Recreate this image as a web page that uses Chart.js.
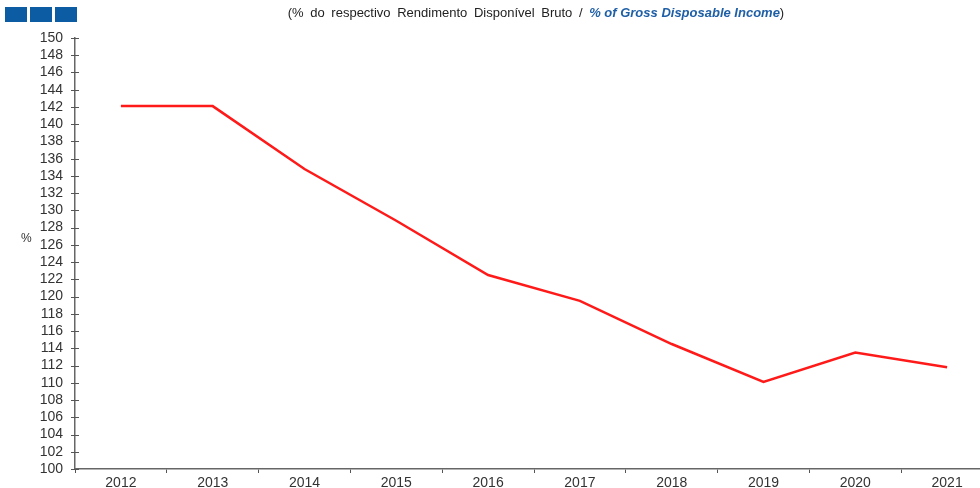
<!DOCTYPE html>
<html>
<head>
<meta charset="utf-8">
<script src="https://cdn.jsdelivr.net/npm/chart.js@4/dist/chart.umd.min.js"></script>
<style>
  html, body { margin: 0; padding: 0; background: #fff; overflow: hidden; width: 980px; height: 488px; }
  #wrap { position: absolute; left: 0; top: 0; width: 995px; height: 488px; }
  .sq { position: absolute; top: 7px; width: 22px; height: 15px; background: #0b5ca3; }
  #title { position: absolute; top: 5px; left: 0; width: 1072px; text-align: center;
           font-family: "Liberation Sans", Arial, sans-serif; font-size: 13px; color: #222; word-spacing: 3px; white-space: nowrap; }
  #title i { color: #1f5fa6; font-weight: bold; word-spacing: 0; }
  #ylab { position: absolute; left: 21px; top: 231px; font-family: "Liberation Sans", Arial, sans-serif; font-size: 12px; color: #333; }
</style>
</head>
<body>
<div id="wrap"><canvas id="c" width="995" height="488"></canvas></div>
<div class="sq" style="left:5px"></div>
<div class="sq" style="left:30px"></div>
<div class="sq" style="left:55px"></div>
<div id="title">(% do respectivo Rendimento Disponível Bruto / <i>% of Gross Disposable Income</i>)</div>
<div id="ylab">%</div>
<script>
// Household debt, % of gross disposable income
const years = ['2012','2013','2014','2015','2016','2017','2018','2019','2020','2021'];
const debtRatio = [142.1, 142.1, 134.8, 128.8, 122.5, 119.5, 114.5, 110.1, 113.5, 111.8];
const yMin = 100, yMax = 150, yStep = 2;

// Small tick marks that cross the vertical axis line
const crossTicks = {
  id: 'crossTicks',
  afterDraw(chart) {
    const y = chart.scales.y, ctx = chart.ctx;
    const x0 = chart.chartArea.left;
    ctx.save();
    ctx.strokeStyle = '#555';
    ctx.lineWidth = 1;
    y.ticks.forEach(t => {
      const py = Math.round(y.getPixelForValue(t.value)) + 0.5;
      ctx.beginPath();
      ctx.moveTo(x0 - 4, py);
      ctx.lineTo(x0 + 4, py);
      ctx.stroke();
    });
    ctx.restore();
  }
};

new Chart(document.getElementById('c'), {
  type: 'line',
  data: {
    labels: years,
    datasets: [{
      data: debtRatio,
      borderColor: '#ff1a1a',
      borderWidth: 2.5,
      pointRadius: 0,
      tension: 0,
      fill: false
    }]
  },
  plugins: [crossTicks],
  options: {
    responsive: false,
    animation: false,
    layout: { padding: { top: 38, left: 0, right: 2, bottom: 0 } },
    plugins: { legend: { display: false }, tooltip: { enabled: false } },
    scales: {
      x: {
        offset: true,
        grid: { offset: true, drawOnChartArea: false, tickLength: 4, color: '#555' },
        border: { color: '#666', width: 1.5 },
        ticks: { color: '#333', font: { family: 'Liberation Sans', size: 14 }, padding: 2, maxRotation: 0 },
        afterFit(s) { s.height = 19; }
      },
      y: {
        min: yMin, max: yMax,
        grid: { display: false },
        border: { color: '#666', width: 1.5 },
        ticks: { stepSize: yStep, autoSkip: false, color: '#333', font: { family: 'Liberation Sans', size: 14 }, padding: 4 },
        afterFit(s) { s.width = 75; }
      }
    }
  }
});
</script>
</body>
</html>
